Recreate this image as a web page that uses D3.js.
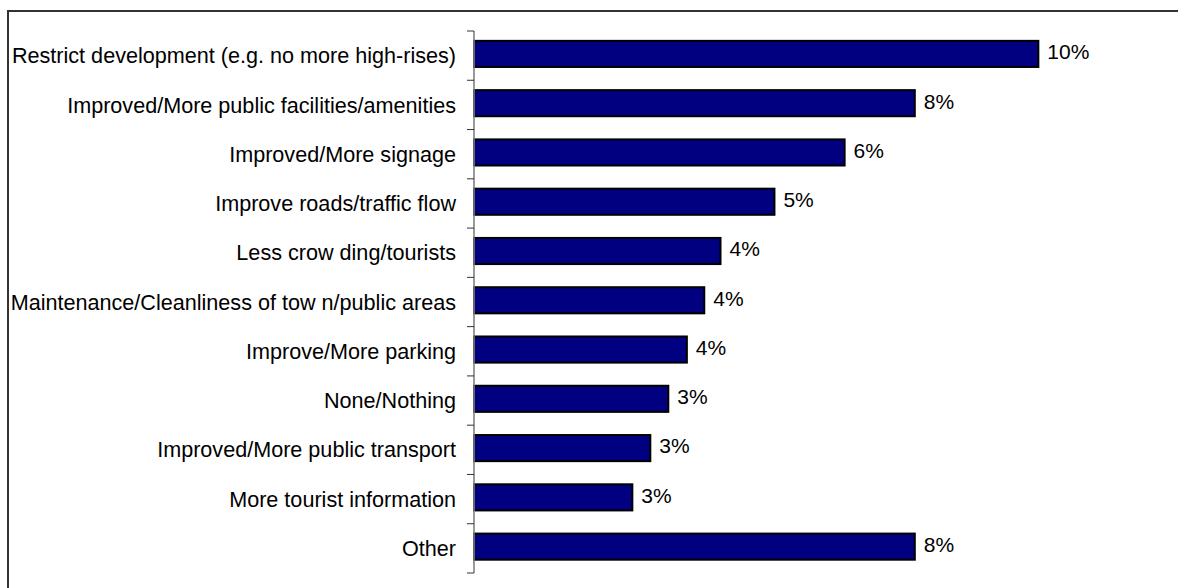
<!DOCTYPE html>
<html>
<head>
<meta charset="utf-8">
<script src="https://cdn.jsdelivr.net/npm/d3@7/dist/d3.min.js"></script>
<style>
  html, body { margin: 0; padding: 0; background: #ffffff; overflow: hidden; }
  svg { display: block; }
  text { font-family: "Liberation Sans", Arial, sans-serif; fill: #000; }
</style>
</head>
<body>
<svg id="chart" width="1178" height="588"></svg>
<script>
// Suggested improvements (share of responses, %)
const categories = [
  "Restrict development (e.g. no more high-rises)",
  "Improved/More public facilities/amenities",
  "Improved/More signage",
  "Improve roads/traffic flow",
  "Less crow ding/tourists",
  "Maintenance/Cleanliness of tow n/public areas",
  "Improve/More parking",
  "None/Nothing",
  "Improved/More public transport",
  "More tourist information",
  "Other"
];
const values = [9.73, 7.6, 6.39, 5.18, 4.25, 3.97, 3.67, 3.35, 3.04, 2.73, 7.6];
const xDomain = [0, 12];

const svg = d3.select("#chart");

// Chart frame (top and left edges fall inside the page)
svg.append("path")
  .attr("d", "M8,588 V11 H1178")
  .attr("fill", "none")
  .attr("stroke", "#333")
  .attr("stroke-width", 2);

const plotLeft = 474, plotRight = 1170, plotTop = 31, plotBottom = 573;

const x = d3.scaleLinear().domain(xDomain).range([plotLeft, plotRight]);
const y = d3.scaleBand().domain(categories).range([plotTop, plotBottom]).padding(0);
const edge = d3.scaleLinear().domain([0, categories.length]).range([plotTop, plotBottom]);

const data = categories.map((c, i) => ({ cat: c, v: values[i] }));
const bw = y.bandwidth();

// Bars
svg.append("g").selectAll("rect")
  .data(data).join("rect")
  .attr("x", x(0))
  .attr("y", d => y(d.cat) + bw * 0.2)
  .attr("width", d => x(d.v) - x(0))
  .attr("height", bw * 0.53)
  .attr("fill", "#000080")
  .attr("stroke", "#000")
  .attr("stroke-width", 2);

// Category axis: line plus ticks between categories
const axis = svg.append("g");
axis.append("line")
  .attr("x1", plotLeft).attr("x2", plotLeft)
  .attr("y1", plotTop).attr("y2", plotBottom)
  .attr("stroke", "#808080").attr("stroke-width", 1.6);
axis.selectAll("line.tick")
  .data(d3.range(categories.length + 1)).join("line")
  .attr("class", "tick")
  .attr("x1", plotLeft - 7).attr("x2", plotLeft)
  .attr("y1", d => edge(d)).attr("y2", d => edge(d))
  .attr("stroke", "#333").attr("stroke-width", 1);

// Category labels
svg.append("g").selectAll("text")
  .data(data).join("text")
  .attr("x", 456)
  .attr("y", d => y(d.cat) + 32.3)
  .attr("text-anchor", "end")
  .attr("font-size", "21.6px")
  .text(d => d.cat);

// Value labels
svg.append("g").selectAll("text")
  .data(data).join("text")
  .attr("x", d => x(d.v) + 9)
  .attr("y", d => y(d.cat) + 28.3)
  .attr("font-size", "21px")
  .text(d => Math.round(d.v) + "%");
</script>
</body>
</html>
